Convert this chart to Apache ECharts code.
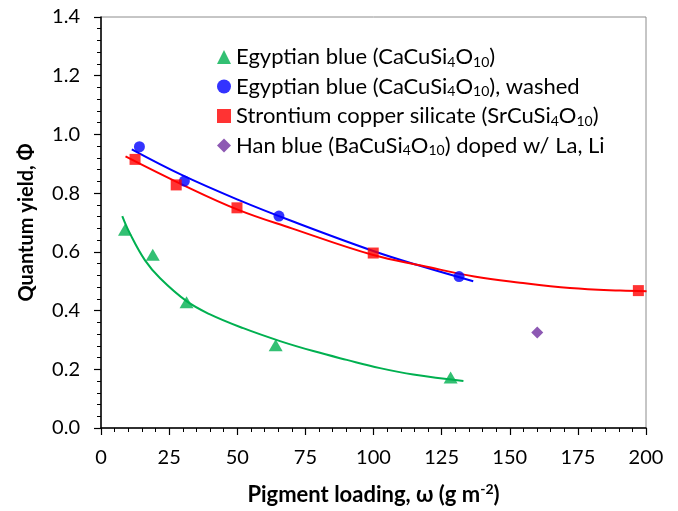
<!DOCTYPE html>
<html>
<head>
<meta charset="utf-8">
<script src="https://cdn.jsdelivr.net/npm/echarts@6/dist/echarts.min.js"></script>
<style>html,body{margin:0;padding:0;background:#fff}#c{width:678px;height:511px}</style>
</head>
<body>
<div id="c"></div>
<script>
// Measured data points
var egyptX = [8.8, 19.0, 31.4, 64.1, 128.3];
var egyptY = [0.675, 0.590, 0.428, 0.282, 0.172];
var washedX = [14.1, 30.6, 65.3, 131.4];
var washedY = [0.958, 0.841, 0.722, 0.516];
var srX = [12.5, 27.6, 49.9, 99.9, 197.2];
var srY = [0.915, 0.828, 0.750, 0.596, 0.468];
var hanX = [160.1];
var hanY = [0.325];
// Trend curves
var egyptTrendX = [7.8, 10.6, 16.1, 21.7, 31.4, 40, 52.2, 65.7, 77.9, 90.2, 102.4, 114.6, 133];
var egyptTrendY = [0.722, 0.663, 0.572, 0.510, 0.432, 0.387, 0.340, 0.296, 0.262, 0.232, 0.204, 0.182, 0.160];
var washedTrendX = [11.3, 29.6, 50.4, 70, 99.9, 118.3, 136.6];
var washedTrendY = [0.949, 0.862, 0.777, 0.705, 0.603, 0.549, 0.500];
var srTrendX = [9, 29.6, 50.4, 70, 99.9, 118.3, 137, 153.8, 172.1, 190.5, 200.2];
var srTrendY = [0.925, 0.830, 0.743, 0.680, 0.589, 0.552, 0.516, 0.495, 0.477, 0.468, 0.466];
var xTicks = [0, 25, 50, 75, 100, 125, 150, 175, 200];
var yTicks = [0.0, 0.2, 0.4, 0.6, 0.8, 1.0, 1.2, 1.4];
var names = [
  'Egyptian blue (CaCuSi{sub|4}O{sub|10})',
  'Egyptian blue (CaCuSi{sub|4}O{sub|10}), washed',
  'Strontium copper silicate (SrCuSi{sub|4}O{sub|10})',
  'Han blue (BaCuSi{sub|4}O{sub|10}) doped w/ La, Li'
];

function zip(a, b) { return a.map(function (v, i) { return [v, b[i]]; }); }

var FONT = 'Lato';
var chart = echarts.init(document.getElementById('c'));
chart.setOption({
  animation: false,
  textStyle: { fontFamily: FONT },
  grid: { left: 101, right: 32, top: 17, bottom: 83, containLabel: false, outerBoundsMode: 'none', show: true, borderColor: '#8c8c8c', borderWidth: 1 },
  legend: {
    orient: 'vertical', left: 212, top: 40, itemGap: 5.5, itemWidth: 14, itemHeight: 14,
    data: names,
    textStyle: {
      fontFamily: FONT, fontSize: 22, color: '#000', lineHeight: 24,
      rich: { sub: { fontFamily: FONT, fontSize: 14, lineHeight: 14, verticalAlign: 'bottom', color: '#000' } }
    },
    formatter: function (n) { return n; }
  },
  xAxis: {
    type: 'value', min: xTicks[0], max: xTicks[xTicks.length - 1], interval: 25,
    name: 'Pigment loading, ω (g m{sup|-2})', nameLocation: 'middle', nameGap: 54,
    nameTextStyle: {
      fontFamily: FONT, fontSize: 22, fontWeight: 'bold', color: '#000', lineHeight: 26,
      rich: { sup: { fontFamily: FONT, fontSize: 14, fontWeight: 'bold', lineHeight: 14, verticalAlign: 'top', color: '#000' } }
    },
    axisLine: { lineStyle: { color: '#000', width: 1.5 } },
    axisTick: { show: true, inside: false, length: 7, lineStyle: { color: '#000', width: 1.2 } },
    minorTick: { show: true, splitNumber: 5, length: 4, lineStyle: { color: '#000', width: 1 } },
    axisLabel: { fontFamily: FONT, fontSize: 20, color: '#000', margin: 20 },
    splitLine: { show: false }
  },
  yAxis: {
    type: 'value', min: yTicks[0], max: yTicks[yTicks.length - 1], interval: 0.2,
    name: 'Quantum yield, Φ', nameLocation: 'middle', nameGap: 64,
    nameTextStyle: { fontFamily: FONT, fontSize: 20, fontWeight: 'bold', color: '#000' },
    axisLine: { show: true, lineStyle: { color: '#000', width: 1.5 } },
    axisTick: { show: true, inside: false, length: 7, lineStyle: { color: '#000', width: 1.2 } },
    minorTick: { show: true, splitNumber: 5, length: 4, lineStyle: { color: '#000', width: 1 } },
    axisLabel: { fontFamily: FONT, fontSize: 20, color: '#000', margin: 21, formatter: function (v) { return v.toFixed(1); } },
    splitLine: { show: false }
  },
  series: [
    { type: 'line', data: zip(egyptTrendX, egyptTrendY), smooth: 0.4, showSymbol: false, lineStyle: { color: '#00B050', width: 2 }, silent: true, z: 1 },
    { type: 'line', data: zip(washedTrendX, washedTrendY), smooth: 0.4, showSymbol: false, lineStyle: { color: '#0000FF', width: 2 }, silent: true, z: 1 },
    { type: 'line', data: zip(srTrendX, srTrendY), smooth: 0.4, showSymbol: false, lineStyle: { color: '#FF0000', width: 2 }, silent: true, z: 1 },
    { name: names[0], type: 'scatter', data: zip(egyptX, egyptY), symbol: 'triangle', symbolSize: [14, 12], itemStyle: { color: '#00B050' }, z: 3 },
    { name: names[1], type: 'scatter', data: zip(washedX, washedY), symbol: 'circle', symbolSize: 11, itemStyle: { color: '#0000FF' }, z: 3 },
    { name: names[2], type: 'scatter', data: zip(srX, srY), symbol: 'rect', symbolSize: 11, itemStyle: { color: '#FF0000' }, z: 3 },
    { name: names[3], type: 'scatter', data: zip(hanX, hanY), symbol: 'diamond', symbolSize: 12, itemStyle: { color: '#7030A0' }, z: 3 }
  ]
});
</script>
</body>
</html>
